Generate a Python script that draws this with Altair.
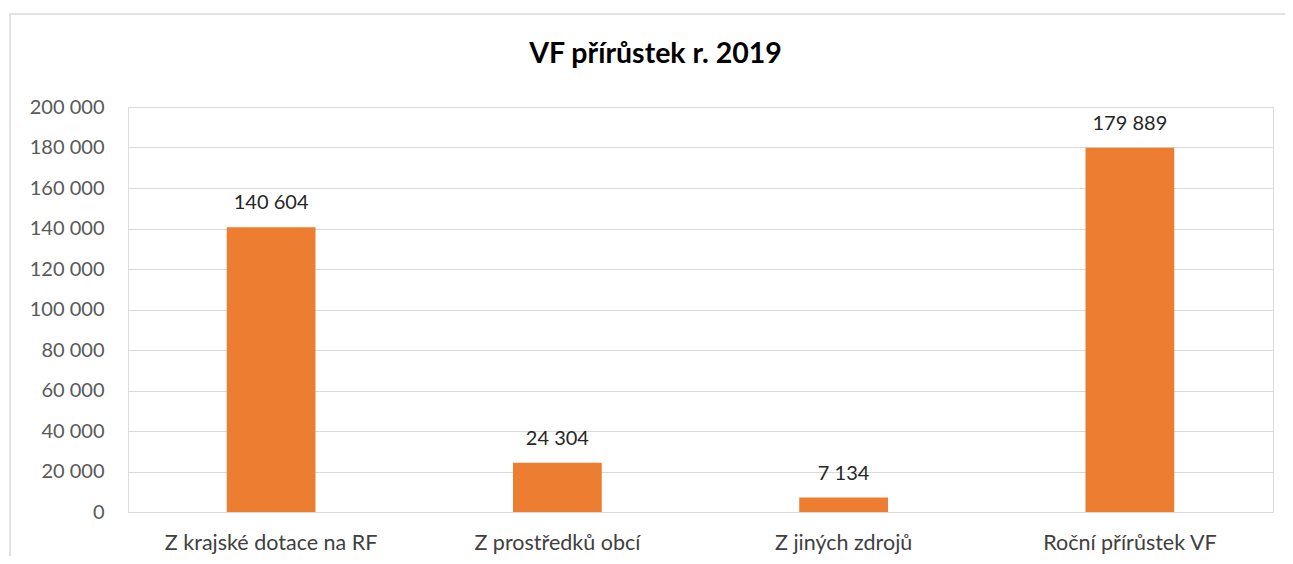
import altair as alt
import pandas as pd

categories = ["Z krajské dotace na RF", "Z prostředků obcí", "Z jiných zdrojů", "Roční přírůstek VF"]
values = [140604, 24304, 7134, 179889]
y_ticks = list(range(0, 200001, 20000))
title_text = "VF přírůstek r. 2019"

df = pd.DataFrame({"cat": categories, "val": values})

FONT = "Lato"
W, H = 1145, 405

x_enc = alt.X("cat:N", sort=categories, title=None,
              scale=alt.Scale(paddingInner=0.69, paddingOuter=0.345),
              axis=alt.Axis(labelAngle=0, labelFontSize=21.5, labelColor="#404040",
                            labelFont=FONT, ticks=False, domainColor="#d9d9d9",
                            domainWidth=1, labelPadding=20, labelLimit=0, grid=False))
y_enc = alt.Y("val:Q", title=None,
              scale=alt.Scale(domain=[0, 200000], nice=False),
              axis=alt.Axis(values=y_ticks, format=",d", labelFontSize=20,
                            labelColor="#595959", labelFont=FONT, ticks=False,
                            domain=False, gridColor="#d9d9d9", labelPadding=24))

base = alt.Chart(df)
bars = base.mark_bar(color="#ED7D31").encode(x=x_enc, y=y_enc)
labels = base.mark_text(dy=-18, baseline="alphabetic", fontSize=20, font=FONT,
                        color="#262626").encode(
    x=alt.X("cat:N", sort=categories),
    y=alt.Y("val:Q"),
    text=alt.Text("val:Q", format=",d"))

frame = alt.Chart(pd.DataFrame({"a": [0]})).mark_rect(
    fill=None, stroke="#d9d9d9", strokeWidth=1.5).encode(
    x=alt.value(-118), x2=alt.value(1400), y=alt.value(-93), y2=alt.value(700))

title = alt.Chart(pd.DataFrame({"t": [title_text]})).mark_text(
    fontSize=28.5, font=FONT, fontWeight="bold", color="#000000",
    align="center", baseline="alphabetic").encode(
    text="t:N", x=alt.value(W / 2 - 45), y=alt.value(-44))

chart = alt.layer(frame, bars, labels, title).properties(
    width=W, height=H,
    autosize=alt.AutoSizeParams(type="none"),
    padding={"left": 120, "top": 99, "right": 12, "bottom": 44},
).configure_view(stroke=None).configure(background="#ffffff")

chart.save("out.html", embed_options={
    "renderer": "svg", "actions": False,
    "formatLocale": {"decimal": ",", "thousands": " ", "grouping": [3],
                     "currency": ["", " Kč"]}})
